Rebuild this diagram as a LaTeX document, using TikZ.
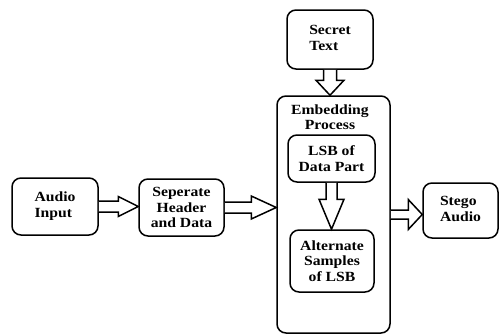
\documentclass[tikz,border=0pt]{standalone}
\usepackage{fontspec}
\setmainfont{Liberation Serif}[FakeStretch=1.12]
\usepackage{tikz}
\usetikzlibrary{calc}

% hollow block arrows: from node, to node, shaft half width, head half width, head length
\newcommand{\harrow}[5]{%
    \draw[blockarrow] ($(#1.east)+(0,#3)$) -- ($(#2.west |- #1.east)+(-#5,#3)$)
        -- ($(#2.west |- #1.east)+(-#5,#4)$) -- (#2.west |- #1.east)
        -- ($(#2.west |- #1.east)+(-#5,-#4)$) -- ($(#2.west |- #1.east)+(-#5,-#3)$)
        -- ($(#1.east)+(0,-#3)$);}
\newcommand{\varrow}[5]{%
    \draw[blockarrow] ($(#1.south)+(#3,0)$) -- ($(#2.north -| #1.south)+(#3,-#5)$)
        -- ($(#2.north -| #1.south)+(#4,-#5)$) -- (#2.north -| #1.south)
        -- ($(#2.north -| #1.south)+(-#4,-#5)$) -- ($(#2.north -| #1.south)+(-#3,-#5)$)
        -- ($(#1.south)+(-#3,0)$);}

\begin{document}
\begin{tikzpicture}[
    x=1pt, y=-1pt,
    box/.style={rectangle, draw, line width=1.5pt, rounded corners=9pt, inner sep=0pt, align=center,
        font=\fontsize{14}{15.5}\selectfont\bfseries},
    blockarrow/.style={draw, line width=1.5pt, line join=miter, fill=white}
]
    \useasboundingbox (0,0) rectangle (499,335);

    \node[box, minimum width=113pt, minimum height=237pt] (embed) at (333.5,214.5) {};
    \node[font=\fontsize{14}{15.5}\selectfont\bfseries, align=center, inner sep=0pt] (embedlabel) at (330,117) {Embedding\\Process};

    \node[box, minimum width=86pt, minimum height=57pt] (audio) at (55,206.5) {\begin{tabular}{@{}l@{}}Audio\\Input\end{tabular}};
    \node[box, minimum width=85pt, minimum height=57pt] (separate) at (181.5,207.5) {Seperate\\Header\\and Data};
    \node[box, minimum width=86pt, minimum height=59pt] (secret) at (330,39.5) {\begin{tabular}{@{}l@{}}Secret\\Text\end{tabular}};
    \node[box, minimum width=87pt, minimum height=47pt] (lsb) at (331.5,158.5) {LSB of\\Data Part};
    \node[box, minimum width=84pt, minimum height=62pt] (alternate) at (332,261) {Alternate\\Samples\\of LSB};
    \node[box, minimum width=75pt, minimum height=55pt] (stego) at (460.5,210.5) {\begin{tabular}{@{}l@{}}Stego\\Audio\end{tabular}};

    \harrow{audio}{separate}{5.5}{10}{20}
    \harrow{separate}{embed}{5.5}{11.5}{25}
    \harrow{embed}{stego}{4.5}{15}{14}
    \varrow{secret}{embed}{6.5}{14}{15}
    \varrow{lsb}{alternate}{5.5}{12.5}{30}
\end{tikzpicture}
\end{document}
